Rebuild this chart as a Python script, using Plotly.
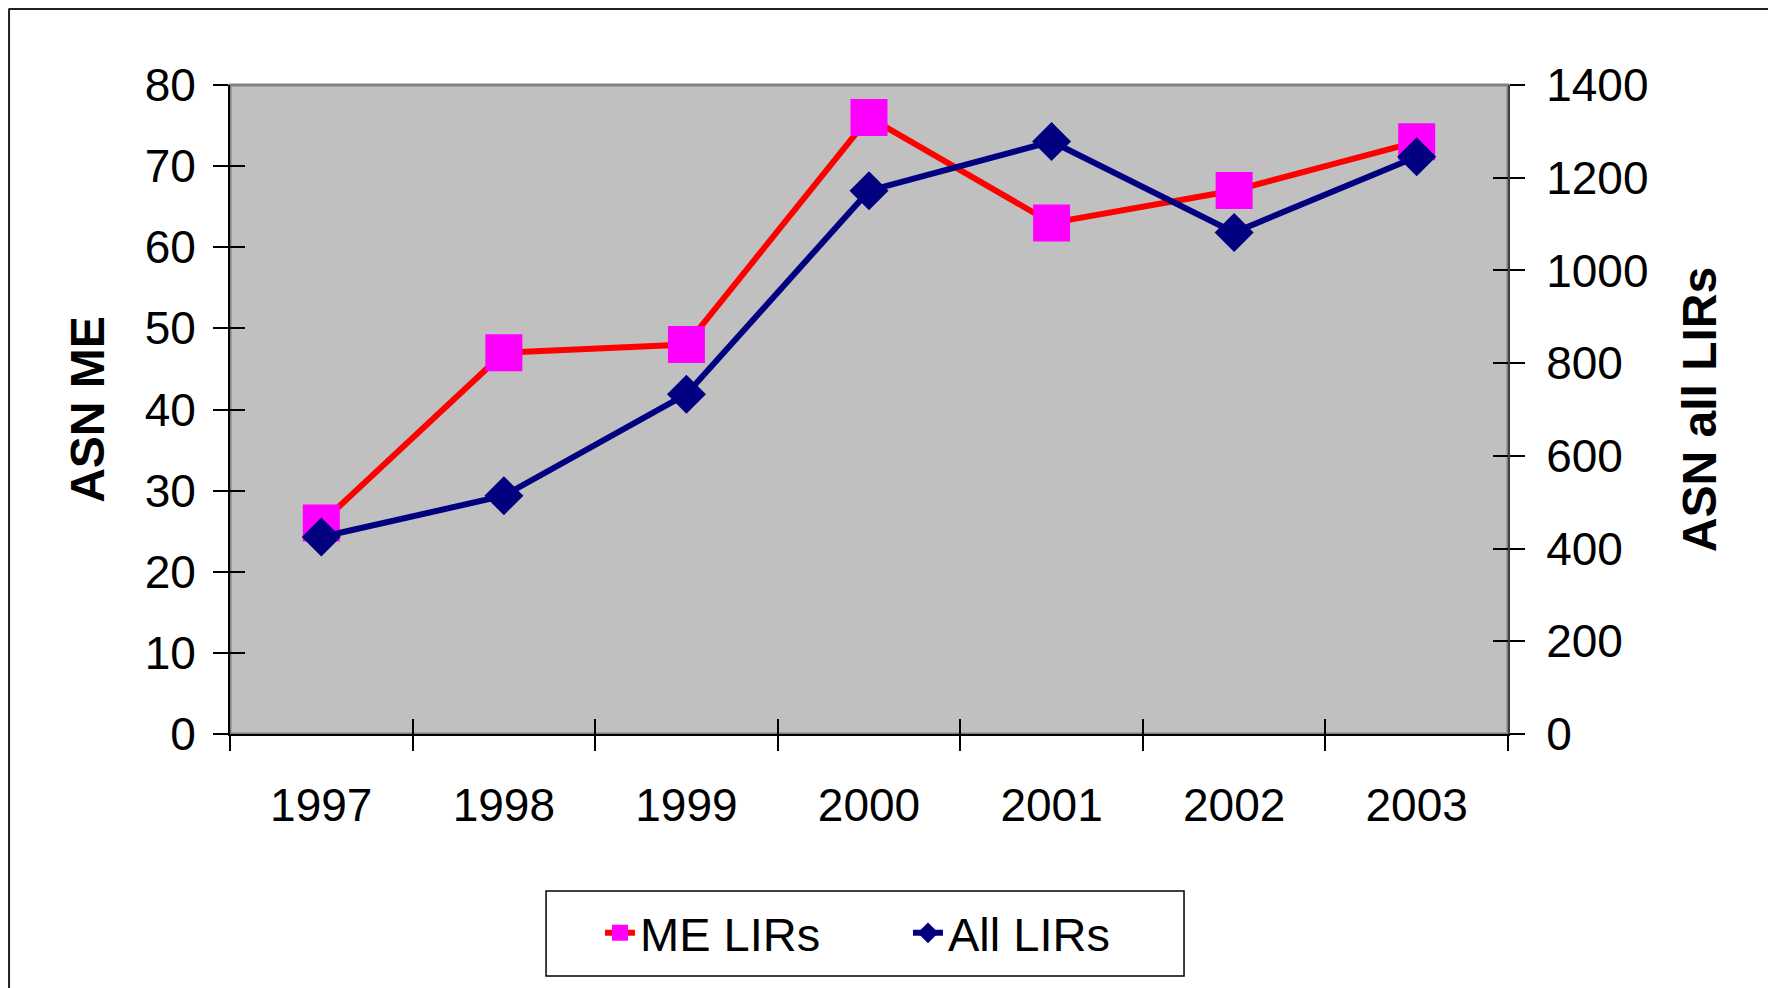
import plotly.graph_objects as go

# ── Dados ─────────────────────────────────────────────────────────────────────
YEARS    = ["1997", "1998", "1999", "2000", "2001", "2002", "2003"]
ME_LIRS  = [26, 47, 48, 76, 63, 67, 73]              # eixo esquerdo
ALL_LIRS = [425, 514, 733, 1172, 1278, 1082, 1245]   # eixo direito

LEFT_TICKS  = list(range(0, 81, 10))
RIGHT_TICKS = list(range(0, 1401, 200))

FONT = "Liberation Sans, Arial, sans-serif"
TICK_FONT = dict(family=FONT, size=46, color="black")
TITLE_FONT = dict(family=FONT, size=48, color="black")

fig = go.Figure()

fig.add_trace(go.Scatter(
    x=YEARS, y=ME_LIRS, name="ME LIRs",
    mode="lines+markers",
    line=dict(color="#FF0000", width=6),
    marker=dict(symbol="square", size=37, color="#FF00FF"),
    yaxis="y",
))
fig.add_trace(go.Scatter(
    x=YEARS, y=ALL_LIRS, name="All LIRs",
    mode="lines+markers",
    line=dict(color="#000080", width=6),
    marker=dict(symbol="diamond", size=30, color="#000080"),
    yaxis="y2",
))
# traços invisíveis só para desenhar os ticks "para dentro" (ticks cruzados)
fig.add_trace(go.Scatter(x=YEARS, y=ME_LIRS, mode="none", xaxis="x2", yaxis="y3",
                         showlegend=False, hoverinfo="skip"))
fig.add_trace(go.Scatter(x=YEARS, y=ALL_LIRS, mode="none", xaxis="x", yaxis="y4",
                         showlegend=False, hoverinfo="skip"))

tick_style = dict(tickcolor="black", tickwidth=1.5, ticklen=15)

# moldura externa (coordenadas em fração da área do gráfico)
FRAME_L, FRAME_R, FRAME_T, FRAME_B = -0.1729, 1.2089, 1.118, -0.42

fig.update_layout(
    width=1776, height=988,
    margin=dict(l=222, r=276, t=77, b=262),
    paper_bgcolor="white",
    plot_bgcolor="#C0C0C0",
    showlegend=True,
    xaxis=dict(
        type="category", categoryarray=YEARS, range=[-0.5, 6.5],
        ticks="outside", tickson="boundaries", **tick_style,
        showline=True, linecolor="black", linewidth=2,
        showgrid=False, zeroline=False,
        tickfont=TICK_FONT, ticklabelstandoff=30,
    ),
    xaxis2=dict(
        type="category", categoryarray=YEARS, range=[-0.5, 6.5],
        overlaying="x", anchor="y", side="bottom",
        ticks="inside", tickson="boundaries", **tick_style,
        showticklabels=False, showline=False, showgrid=False, zeroline=False,
    ),
    yaxis=dict(
        range=[0, 80], tickvals=LEFT_TICKS,
        ticks="outside", **tick_style,
        showline=True, linecolor="black", linewidth=2,
        showgrid=False, zeroline=False,
        tickfont=TICK_FONT, ticklabelstandoff=8,
        title=dict(text="<b>ASN ME</b>", font=TITLE_FONT, standoff=25),
    ),
    yaxis2=dict(
        range=[0, 1400], tickvals=RIGHT_TICKS,
        overlaying="y", side="right", anchor="x",
        ticks="outside", **tick_style,
        showline=True, linecolor="#404040", linewidth=2,
        showgrid=False, zeroline=False,
        tickfont=TICK_FONT, ticklabelstandoff=12,
        title=dict(text="<b>ASN all LIRs</b>", font=TITLE_FONT, standoff=35),
    ),
    yaxis3=dict(
        range=[0, 80], tickvals=LEFT_TICKS,
        overlaying="y", side="left", anchor="x2",
        ticks="inside", **tick_style,
        showticklabels=False, showline=False, showgrid=False, zeroline=False,
    ),
    yaxis4=dict(
        range=[0, 1400], tickvals=RIGHT_TICKS,
        overlaying="y", side="right", anchor="x",
        ticks="inside", **tick_style,
        showticklabels=False, showline=False, showgrid=False, zeroline=False,
    ),
    legend=dict(
        orientation="h",
        x=0.2895, y=-0.307, xanchor="left", yanchor="middle",
        bgcolor="rgba(0,0,0,0)", borderwidth=0,
        font=dict(family=FONT, size=47, color="black"),
        entrywidth=263,
    ),
    shapes=[
        # moldura cinza da área do gráfico
        dict(type="rect", xref="paper", yref="paper", x0=0, x1=1, y0=0, y1=1,
             line=dict(color="#808080", width=3), layer="below"),
        # moldura externa: esquerda e topo escuras, direita clara
        dict(type="line", xref="paper", yref="paper",
             x0=FRAME_L, x1=FRAME_L, y0=FRAME_B, y1=FRAME_T,
             line=dict(color="#202020", width=2)),
        dict(type="line", xref="paper", yref="paper",
             x0=FRAME_L, x1=FRAME_R, y0=FRAME_T, y1=FRAME_T,
             line=dict(color="#202020", width=3)),
        dict(type="line", xref="paper", yref="paper",
             x0=FRAME_R, x1=FRAME_R, y0=FRAME_B, y1=FRAME_T,
             line=dict(color="#C8C8C8", width=2)),
        # caixa da legenda
        dict(type="rect", xref="paper", yref="paper",
             x0=0.2473, x1=0.7465, y0=-0.3729, y1=-0.2419,
             line=dict(color="black", width=1.5), fillcolor="white", layer="below"),
    ],
)

fig.write_html("out.html")
